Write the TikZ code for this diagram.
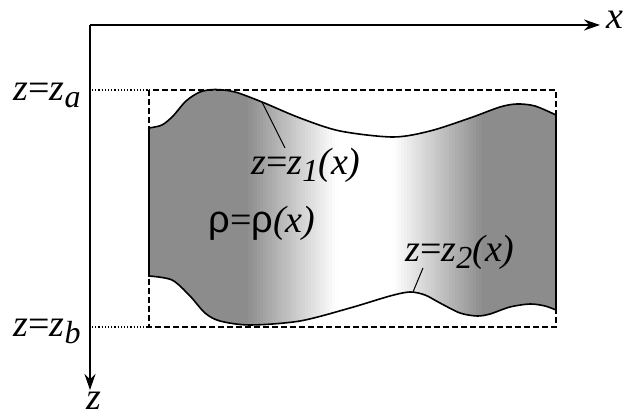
\documentclass[tikz,border=0pt]{standalone}
\usepackage{fontspec}
\setmainfont{Liberation Serif}
\newfontfamily\rhofont{Liberation Sans}
\usetikzlibrary{arrows.meta}
\newcommand{\zsub}[1]{\raisebox{-0.35ex}{\fontsize{16}{16}\selectfont\itshape #1}}

\begin{document}
\begin{tikzpicture}[x=0.5pt,y=-0.5pt,
    axis/.style={line width=1pt,-{Stealth[length=8pt,width=5.5pt]}},
    curve/.style={line width=0.8pt},
    lbl/.style={font=\fontsize{19}{22}\selectfont, inner sep=0pt},
    guide/.style={line width=0.5pt}]
    \useasboundingbox (0,0) rectangle (629,417);

    % Layer between the two interfaces
    \path[save path=\layerpath]
        plot[smooth] coordinates {(149,128) (162,125) (173,116) (186,101) (200,92)
            (215,89.5) (235,92) (262,102) (300,118) (340,131) (393,137) (430,131)
            (470,118) (500,107) (517,104) (535,106) (556,115)}
        -- plot[smooth] coordinates {(556,310) (545,306) (530,304) (510,307)
            (490,314) (477,316) (460,313) (440,303) (425,295) (410,292) (390,296)
            (350,308) (300,321) (250,325) (220,321) (205,313) (190,296) (172,280)
            (149,276)}
        -- cycle;
    % grey fading to white in the middle
    \begin{scope}
        \clip[use path=\layerpath];
        \foreach \i in {0,...,135} {
            \pgfmathsetmacro\xl{149+3*\i}
            \pgfmathsetmacro\tone{45*min(1,max(0,(abs(\xl+1.5-365)-28)/90))}
            \fill[black!\tone] (\xl,80) rectangle (\xl+3.4,340);
        }
    \end{scope}
    \draw[curve, use path=\layerpath];

    % Box and level lines
    \draw[line width=0.6pt, dash pattern=on 3pt off 1.5pt] (149,90) rectangle (556,327);
    \draw[line width=0.6pt, densely dotted] (92,90) -- (149,90);
    \draw[line width=0.6pt, densely dotted] (92,327) -- (149,327);

    % Axes
    \coordinate (O) at (90,25);
    \coordinate (xend) at (600,25);
    \coordinate (zend) at (90,390);
    \draw[axis] (O) -- (xend);
    \draw[axis] (O) -- (zend);
    \node[lbl, anchor=base west] (xlbl) at (606,29) {\textit{x}};
    \node[lbl, anchor=base] (zlbl) at (94,410) {\textit{z}};

    \node[lbl, anchor=base east] (zalbl) at (81,101) {\textit{z}=\textit{z\zsub{a}}};
    \node[lbl, anchor=base east] (zblbl) at (81,337) {\textit{z}=\textit{z\zsub{b}}};

    % Labels of the interfaces
    \node[lbl, anchor=base west] (zonelbl) at (251,175) {\textit{z}=\textit{z\zsub{1}(x)}};
    \node[lbl, anchor=base west] (ztwolbl) at (405,262) {\textit{z}=\textit{z\zsub{2}(x)}};
    \node[lbl, anchor=base west] (rholbl) at (208,233) {{\rhofont ρ}={\rhofont ρ}\textit{(x)}};

    \coordinate (zonept) at (262,102);
    \coordinate (zoneend) at (285,148);
    \draw[guide] (zonept) -- (zoneend);
    \coordinate (ztwopt) at (413,292);
    \coordinate (ztwoend) at (423,268);
    \draw[guide] (ztwopt) -- (ztwoend);

\end{tikzpicture}
\end{document}
